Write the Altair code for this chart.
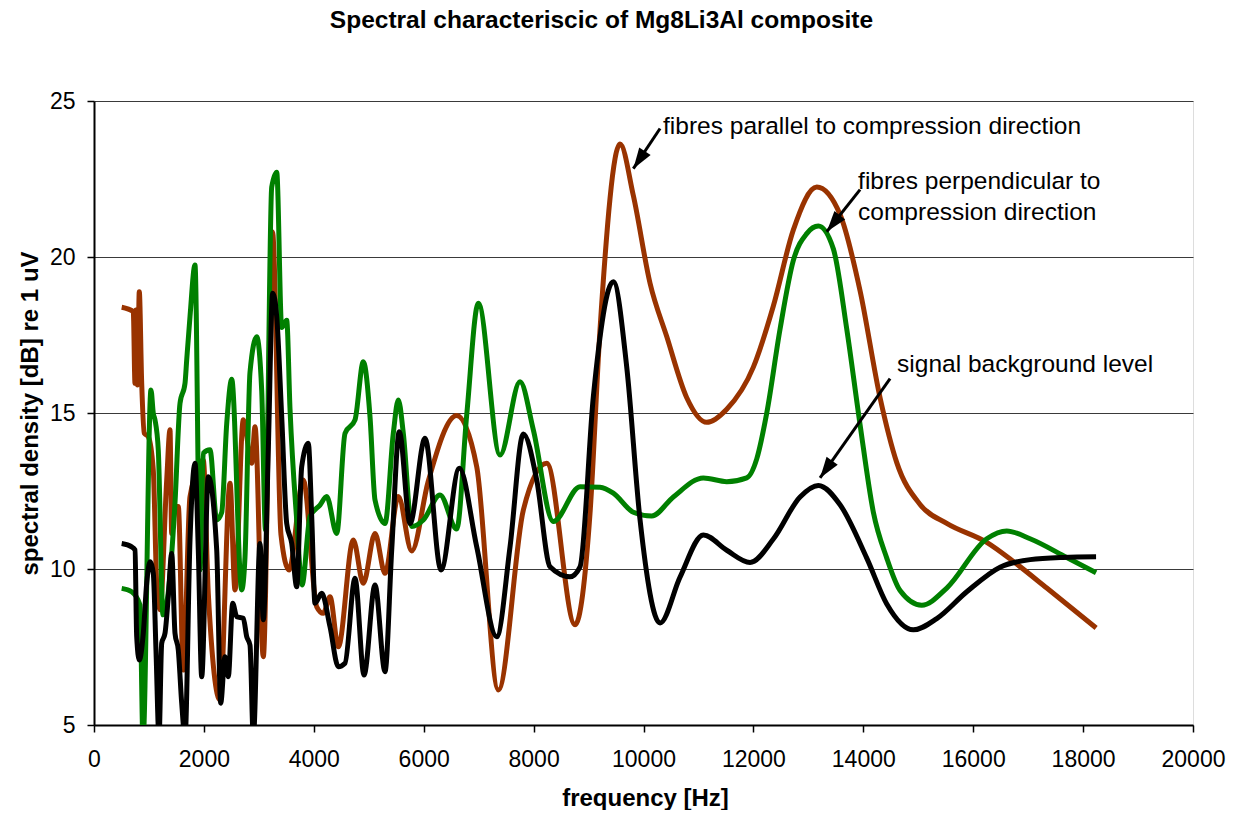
import math
import altair as alt
import pandas as pd

# ---- data ----
parallel_hz = [504, 715, 746, 764, 792, 824, 868, 915, 988, 1079, 1141, 1201, 1323, 1383, 1414, 1474, 1534, 1625, 1747, 1989,
               2080, 2293, 2475, 2566, 2717, 2870, 2930, 3081, 3249, 3403, 3549, 3809, 4053, 4173, 4295, 4446, 4719, 4901, 5114, 5296,
               5538, 5782, 6079, 6601, 6965, 7358, 7813, 8239, 8754, 9027, 9209, 9573, 9815, 10119, 10423, 10787, 11151, 11515, 11999, 12363,
               12727, 13153, 13577, 13941, 14305, 14609, 15033, 15519, 16247, 16731, 17339, 18236]
parallel_db = [18.39, 18.25, 15.95, 18.30, 15.90, 18.89, 15.95, 14.35, 14.24, 13.17, 9.55, 8.69, 12.85, 14.46, 11.14, 12.0, 12.0, 6.76, 12.32, 13.49,
               9.22, 5.8, 12.75, 9.33, 14.78, 13.39, 14.56, 7.19, 20.8, 11.09, 9.97, 12.85, 8.79, 8.58, 9.11, 7.51, 10.93, 9.54, 11.14, 9.86,
               12.32, 10.58, 12.79, 14.92, 13.28, 6.12, 11.89, 13.39, 8.21, 11.79, 17.69, 23.62, 21.97, 19.16, 17.45, 15.49, 14.7, 15.12, 16.47, 18.43,
               20.87, 22.24, 21.36, 18.92, 15.49, 13.41, 12.07, 11.46, 10.85, 10.24, 9.39, 8.11]

perp_hz = [504, 686, 837, 892, 1037, 1079, 1110, 1170, 1256, 1352, 1474, 1565, 1656, 1687, 1747, 1838, 1929, 1989, 2111, 2233,
           2324, 2415, 2506, 2688, 2748, 2839, 2961, 3052, 3121, 3234, 3325, 3416, 3507, 3567, 3689, 3786, 3931, 4113, 4235, 4417,
           4568, 4750, 4901, 5023, 5114, 5296, 5447, 5538, 5629, 5782, 5993, 6297, 6601, 6783, 6994, 7389, 7753, 7995, 8359, 8845,
           9209, 9451, 9815, 10150, 10543, 11089, 11515, 11879, 12061, 12243, 12485, 12727, 12971, 13182, 13455, 13699, 13941, 14183, 14427, 14669,
           15064, 15519, 16247, 16611, 17035, 17703, 18236]
perp_db = [9.38, 9.27, 8.85, 4.5, 15.74, 14.99, 14.78, 13.81, 8.53, 9.26, 12.12, 15.31, 15.95, 16.7, 18.09, 19.74, 9.97, 13.71, 13.82, 11.57,
           11.81, 14.65, 16.08, 9.33, 10.38, 16.31, 17.44, 15.72, 11.25, 22.24, 22.72, 17.74, 17.97, 15.13, 11.57, 9.49, 11.68, 12.05, 12.32, 11.14,
           14.35, 14.78, 16.64, 14.88, 12.21, 11.46, 14.35, 15.42, 14.35, 11.36, 11.57, 12.37, 11.28, 14.94, 18.52, 13.65, 16.0, 14.46, 11.52, 12.64,
           12.62, 12.43, 11.82, 11.7, 12.31, 12.92, 12.8, 12.92, 13.53, 15.0, 17.69, 19.89, 20.75, 20.99, 20.26, 17.69, 14.63, 11.82, 10.35, 9.31,
           8.84, 9.39, 10.97, 11.22, 10.97, 10.37, 9.88]

bg_hz = [504, 686, 746, 777, 824, 897, 959, 1019, 1079, 1128, 1183, 1232, 1292, 1352, 1414, 1474, 1534, 1596, 1656, 1747,
         1838, 1898, 1960, 2080, 2233, 2306, 2384, 2444, 2524, 2597, 2717, 2779, 2839, 2899, 3021, 3081, 3172, 3252, 3325, 3416,
         3507, 3598, 3689, 3780, 3900, 3962, 4022, 4144, 4295, 4446, 4568, 4750, 4914, 5114, 5296, 5418, 5556, 5751, 6024, 6315,
         6648, 6965, 7329, 7571, 7813, 8057, 8299, 8663, 8845, 9087, 9451, 9695, 9937, 10301, 10665, 11089, 11515, 11939, 12363, 12849,
         13182, 13577, 14063, 14427, 14911, 15337, 15883, 16489, 17035, 17641, 18236]
bg_db = [10.82, 10.71, 10.61, 7.83, 7.08, 7.94, 9.54, 10.23, 9.86, 7.4, 4.6, 7.62, 7.94, 9.11, 10.5, 7.94, 7.4, 5.7, 4.6, 10.93,
         13.39, 10.61, 6.55, 12.96, 10.61, 5.7, 7.19, 6.55, 8.9, 8.47, 8.42, 7.83, 7.56, 4.6, 10.82, 8.37, 13.81, 18.84, 18.09, 14.88,
         11.46, 10.82, 9.43, 13.28, 14.03, 11.68, 8.9, 9.22, 8.15, 6.87, 6.98, 9.7, 6.6, 9.49, 6.71, 10.61, 14.4, 11.46, 14.19, 9.97,
         13.23, 10.71, 7.83, 10.71, 14.33, 12.85, 10.07, 9.75, 10.07, 15.52, 19.21, 16.47, 11.58, 8.27, 9.74, 11.09, 10.6, 10.21, 10.96, 12.31,
         12.68, 12.06, 10.35, 8.88, 8.05, 8.41, 9.27, 10.06, 10.3, 10.37, 10.39]

x_ticks = list(range(0, 20001, 2000))
y_ticks = [5, 10, 15, 20, 25]

chart_title = ["Spectral characteriscic of Mg8Li3Al composite"]

ann_text = ["fibres parallel to compression direction", "fibres perpendicular to",
            "compression direction", "signal background level"]
ann_hz = [10356, 13905, 13905, 14615]
ann_db = [23.94, 22.18, 21.19, 16.31]

arrow_from_hz = [10301, 13941, 14487]
arrow_from_db = [24.12, 22.16, 16.10]
arrow_to_hz = [9815, 13335, 13213]
arrow_to_db = [22.83, 20.81, 12.92]

# ---- layout / style ----
W, H = 1099, 624
FONT = "Liberation Sans"

x_scale = alt.Scale(domain=[0, 20000], nice=False, zero=False)
y_scale = alt.Scale(domain=[5, 25], nice=False, zero=False)

x_axis = alt.Axis(values=x_ticks, format="d", grid=False, tickSize=7, tickWidth=1.5, tickColor="black",
                  domainColor="black", domainWidth=2, labelFont=FONT, labelFontSize=23, labelColor="black",
                  labelPadding=16, labelFlush=False, labelOverlap=False,
                  title="frequency [Hz]", titleFont=FONT, titleFontSize=24, titleFontWeight="bold",
                  titleColor="black", titleX=551, titleY=80, titleBaseline="alphabetic", titleAlign="center")
y_axis = alt.Axis(values=y_ticks, grid=True, gridColor="#3a3a3a", gridWidth=1.2, tickSize=7, tickWidth=1.5,
                  tickColor="black", domainColor="black", domainWidth=2, labelFont=FONT, labelFontSize=23,
                  labelColor="black", labelPadding=12, labelFlush=False, labelOverlap=False,
                  title="spectral density [dB] re 1 uV", titleFont=FONT, titleFontSize=24, titleFontWeight="bold",
                  titleColor="black", titleX=-57, titleY=312, titleAngle=270, titleBaseline="alphabetic",
                  titleAlign="center")


def X(field):
    return alt.X(field, type="quantitative", scale=x_scale, axis=x_axis)


def Y(field):
    return alt.Y(field, type="quantitative", scale=y_scale, axis=y_axis)


def line_layer(hz, db, color):
    df = pd.DataFrame({"hz": hz, "db": db})
    return alt.Chart(df).mark_line(color=color, strokeWidth=5, interpolate="monotone", clip=True).encode(
        x=X("hz"), y=Y("db"),
    )


brown = line_layer(parallel_hz, parallel_db, "#993300")
green = line_layer(perp_hz, perp_db, "#008000")
black = line_layer(bg_hz, bg_db, "#000000")

# arrows
angles = []
for fh, fd, th, td in zip(arrow_from_hz, arrow_from_db, arrow_to_hz, arrow_to_db):
    dx = (th - fh) * W / 20000.0
    dy = -(td - fd) * H / 20.0
    angles.append(math.degrees(math.atan2(dx, -dy)) % 360)

arrows_df = pd.DataFrame({"hz": arrow_from_hz, "db": arrow_from_db,
                          "hz2": arrow_to_hz, "db2": arrow_to_db, "angle": angles})

arrow_lines = alt.Chart(arrows_df).mark_rule(color="black", strokeWidth=3).encode(
    x=X("hz"), y=Y("db"), x2="hz2:Q", y2="db2:Q",
)

arrow_heads = alt.Chart(arrows_df).mark_point(
    shape="M0,0L-0.65,2L0.65,2Z", size=441, filled=True, color="black", opacity=1, strokeWidth=0
).encode(
    x=X("hz2"), y=Y("db2"),
    angle=alt.Angle("angle:Q", scale=None),
)

ann_df = pd.DataFrame({"hz": ann_hz, "db": ann_db, "label": ann_text})
annotations = alt.Chart(ann_df).mark_text(
    align="left", baseline="alphabetic", font=FONT, fontSize=24.5, color="black"
).encode(
    x=X("hz"), y=Y("db"), text="label:N",
)

# chart title drawn as a text mark above the plot area (page x ~601, baseline ~28)
title_mark = alt.Chart(pd.DataFrame({"t": chart_title})).mark_text(
    align="center", baseline="alphabetic", font=FONT, fontSize=24.5, fontWeight="bold", color="black"
).encode(x=alt.value(507.5), y=alt.value(-73), text="t:N")

chart = alt.layer(brown, green, black, arrow_lines, arrow_heads, annotations, title_mark).properties(
    width=W, height=H,
    autosize=alt.AutoSizeParams(type="none"),
    padding={"left": 86, "top": 93, "right": 37, "bottom": 85},
).configure_view(stroke="#888888", strokeWidth=3).configure(background="white")

chart.save("out.html", embed_options={"renderer": "svg", "actions": False})
